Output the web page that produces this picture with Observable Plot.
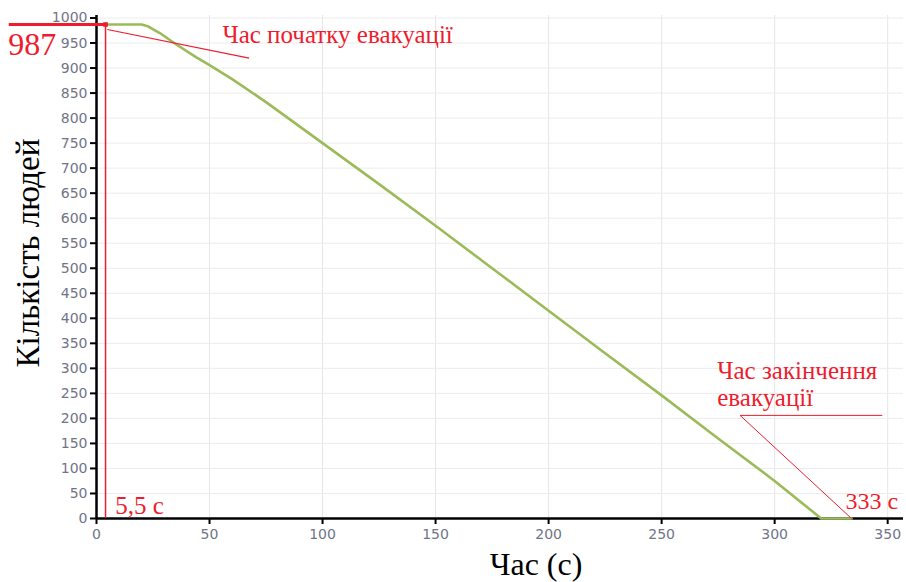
<!DOCTYPE html>
<html>
<head>
<meta charset="utf-8">
<script src="https://cdn.jsdelivr.net/npm/d3@7"></script>
<script src="https://cdn.jsdelivr.net/npm/@observablehq/plot@0.6"></script>
<style>
  html, body { margin: 0; padding: 0; background: #fff; }
  #chart svg { display: block; }
</style>
</head>
<body>
<div id="chart"></div>
<script>
// Evacuation curve: time (s) vs number of people remaining
const timeSec = [4, 20, 23, 28, 35, 44, 50, 60, 75, 100, 125, 150, 175, 200, 225, 250, 275, 300, 320.6, 334];
const people  = [987, 987, 983, 970, 948, 922, 906, 878, 832, 750, 668, 585, 500, 415, 330, 246, 160, 75, 0, 0];

const xTicks = [0, 50, 100, 150, 200, 250, 300, 350];
const yTicks = [0, 50, 100, 150, 200, 250, 300, 350, 400, 450, 500, 550, 600, 650, 700, 750, 800, 850, 900, 950, 1000];

// Annotation values
const startTime = 4;          // position of start marker (labelled 5,5 с)
const startPeople = 987;
const endTime = 334;          // labelled 333 с
const startLeader = [{x1: 4.8, y1: 977, x2: 67.5, y2: 920}];
const endLeader = [
  {x1: 284.7, y1: 206, x2: 347.6, y2: 206},
  {x1: 284.7, y1: 206, x2: endTime, y2: 0}
];
const labels = [
  {x: -39, y: 987, text: "987", size: 32, anchor: "top", dy: 5},
  {x: 55.7, y: 1005, text: "Час початку евакуації", size: 25, anchor: "top", dy: 8},
  {x: 8.3, y: 0, text: "5,5 с", size: 25, anchor: "bottom", dy: -5},
  {x: 331.3, y: 0, text: "333 с", size: 24, anchor: "bottom", dy: -10},
  {x: 274.6, y: 206, text: "Час закінчення\nевакуації", size: 25, anchor: "bottom", dy: -9}
];

const red = "#ee1c2e";
const serif = "'Liberation Serif', 'Times New Roman', serif";
const data = timeSec.map((t, i) => ({t, n: people[i]}));

const chart = Plot.plot({
  width: 906,
  height: 582,
  marginLeft: 96,
  marginRight: 3,
  marginTop: 15,
  marginBottom: 64,
  style: {fontFamily: "'DejaVu Sans', Verdana, sans-serif", background: "#fff", overflow: "visible"},
  x: {domain: [0, 357]},
  y: {domain: [0, 1005]},
  marks: [
    Plot.gridX(xTicks, {stroke: "#e6e6e6", strokeOpacity: 1, strokeWidth: 1}),
    Plot.gridY(yTicks, {stroke: "#ececec", strokeOpacity: 1, strokeWidth: 1}),
    Plot.axisX({ticks: xTicks, tickFormat: d => String(d), tickSize: 6, tickPadding: 5, fontSize: 14, stroke: "#000", strokeWidth: 2, fill: "#707488", label: null}),
    Plot.axisY({ticks: yTicks, tickFormat: d => String(d), tickSize: 6, tickPadding: 3, fontSize: 14, stroke: "#000", strokeWidth: 2, fill: "#707488", label: null}),
    Plot.ruleY([0], {x1: 0, x2: 357, stroke: "#000", strokeWidth: 2.5}),
    Plot.ruleX([0], {y1: 0, y2: 1005, stroke: "#000", strokeWidth: 2.5}),
    Plot.line(data, {x: "t", y: "n", stroke: "#9bbb59", strokeWidth: 2.6}),
    Plot.ruleY([startPeople], {x1: -38.6, x2: startTime + 0.5, stroke: red, strokeWidth: 3}),
    Plot.ruleX([startTime], {y1: 0, y2: startPeople, stroke: red, strokeWidth: 1.5}),
    Plot.dot([{t: startTime, n: startPeople}], {x: "t", y: "n", symbol: "square", r: 2.6, fill: red}),
    Plot.link(startLeader, {x1: "x1", y1: "y1", x2: "x2", y2: "y2", stroke: red, strokeWidth: 1.2}),
    Plot.link(endLeader, {x1: "x1", y1: "y1", x2: "x2", y2: "y2", stroke: red, strokeWidth: 1}),
    ...labels.map(l => Plot.text([l], {
      x: "x", y: "y", text: "text", textAnchor: "start", lineAnchor: l.anchor,
      dy: l.dy, fontSize: l.size, fill: red, fontFamily: serif, lineHeight: 1.1
    })),
    Plot.text(["Кількість людей"], {frameAnchor: "left", textAnchor: "middle", lineAnchor: "middle", rotate: -90, dx: -68, dy: -14, fontSize: 33, fill: "#000", fontFamily: serif}),
    Plot.text(["Час (с)"], {frameAnchor: "bottom", textAnchor: "middle", lineAnchor: "bottom", dx: 36, dy: 56, fontSize: 32, fill: "#000", fontFamily: serif})
  ]
});
document.getElementById("chart").appendChild(chart);
</script>
</body>
</html>
